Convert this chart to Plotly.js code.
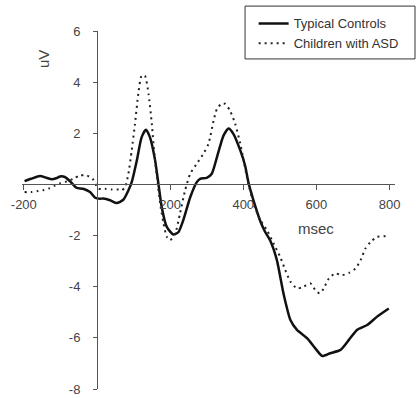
<!DOCTYPE html>
<html>
<head>
<meta charset="utf-8">
<script src="https://cdn.plot.ly/plotly-3.0.1.min.js"></script>
<style>html,body{margin:0;padding:0;background:#fff;}#chart{width:416px;height:398px;}</style>
</head>
<body>
<div id="chart"></div>
<script>
// Time (msec) and amplitude (uV)
const tcTime = [-198,-180,-156,-138,-124,-110,-101,-88,-74,-56,-38,-19,-5,8,17,36,54,72,86,95,109,122,134,145,159,168,177,191,209,223,236,255,273,282,300,314,328,346,360,373,392,405,415,428,447,460,474,492,510,529,547,575,597,616,638,666,689,711,739,766,798];
const tcValues = [0.13,0.22,0.33,0.26,0.2,0.25,0.31,0.29,0.13,-0.13,-0.17,-0.3,-0.52,-0.56,-0.55,-0.62,-0.73,-0.6,-0.23,0.09,0.94,1.84,2.14,1.84,0.94,0.03,-0.88,-1.66,-1.96,-1.86,-1.4,-0.5,0.09,0.22,0.26,0.42,1.06,1.91,2.19,1.98,1.33,0.74,0.03,-0.62,-1.45,-1.86,-2.2,-2.96,-4.26,-5.3,-5.69,-6.02,-6.41,-6.71,-6.6,-6.47,-6.08,-5.69,-5.5,-5.17,-4.85];

const asdTime = [-198,-179,-161,-145,-130,-115,-100,-82,-65,-47,-28,-12,4,22,40,58,68,77,86,95,104,113,122,131,141,150,156,164,173,182,191,200,214,227,241,255,273,291,305,319,328,342,351,364,378,392,401,410,428,447,465,483,501,515,529,547,565,584,597,609,620,634,652,670,689,707,721,734,748,766,784,798];
const asdValues = [-0.3,-0.3,-0.26,-0.22,-0.15,-0.05,0.05,0.12,0.22,0.35,0.35,0.22,-0.17,-0.17,-0.2,-0.2,-0.23,-0.1,0.42,1.33,2.37,3.54,4.25,4.25,3.54,2.37,1.33,0.28,-0.75,-1.53,-2.05,-2.18,-1.92,-1.14,-0.23,0.42,0.81,1.2,1.59,2.5,2.95,3.17,3.15,2.88,2.37,1.59,0.94,0.28,-0.75,-1.4,-1.79,-2.31,-2.83,-3.35,-3.8,-4.07,-4.0,-3.87,-4.13,-4.26,-4.07,-3.68,-3.48,-3.55,-3.46,-3.29,-2.96,-2.51,-2.25,-2.05,-2.03,-1.99];

const seriesNames = ["Typical Controls", "Children with ASD"];
const xTickVals = [-200, 200, 400, 600, 800];
const xTickText = ["-200", "200", "400", "600", "800"];
const yTickVals = [6, 4, 2, -2, -4, -6, -8];
const yTickText = ["6", "4", "2", "-2", "-4", "-6", "-8"];
const xTitle = "msec";
const yTitle = "uV";

const font = "Liberation Sans, Arial, sans-serif";
const textColor = "#444";

const traces = [
  {x: tcTime, y: tcValues, name: seriesNames[0], mode: "lines",
   line: {color: "#111", width: 2.5, shape: "spline", smoothing: 0.6}},
  {x: asdTime, y: asdValues, name: seriesNames[1], mode: "lines",
   line: {color: "#222", width: 2, dash: "2px,4px", shape: "spline", smoothing: 0.6}}
];

const xr = [-205, 815];
const layout = {
  width: 416, height: 398,
  margin: {l: 22, r: 21, t: 30, b: 9},
  paper_bgcolor: "#fff", plot_bgcolor: "#fff",
  font: {family: font, size: 13, color: textColor},
  showlegend: true,
  legend: {x: 0.621, y: 1.06, xanchor: "left", yanchor: "top",
           bgcolor: "rgba(0,0,0,0)", borderwidth: 0,
           font: {family: font, size: 13, color: "#333"}},
  xaxis: {range: xr, anchor: "free", position: 8/14,
          showgrid: false, zeroline: false, showline: true, linecolor: "#555", linewidth: 1,
          ticks: "outside", ticklen: 5, tickcolor: "#555", ticklabelstandoff: 3,
          tickvals: xTickVals, ticktext: xTickText, fixedrange: true},
  yaxis: {range: [-8, 6], anchor: "free", position: (0 - xr[0]) / (xr[1] - xr[0]),
          showgrid: false, zeroline: false, showline: true, linecolor: "#555", linewidth: 1,
          ticks: "outside", ticklen: 4, tickcolor: "#555", ticklabelstandoff: 10,
          tickvals: yTickVals, ticktext: yTickText, fixedrange: true},
  shapes: [
    {type: "rect", xref: "paper", yref: "paper", x0: 0.598, x1: 1.0536, y0: 0.922, y1: 1.0696,
     line: {color: "#333", width: 1}, fillcolor: "rgba(0,0,0,0)"}
  ],
  annotations: [
    {x: -148, y: 4.9, xref: "x", yref: "y", text: yTitle, showarrow: false, textangle: -90,
     font: {family: font, size: 15, color: textColor}},
    {x: 600, y: -1.72, xref: "x", yref: "y", text: xTitle, showarrow: false,
     font: {family: font, size: 15, color: textColor}}
  ]
};

Plotly.newPlot("chart", traces, layout, {displayModeBar: false, staticPlot: true});
</script>
</body>
</html>
